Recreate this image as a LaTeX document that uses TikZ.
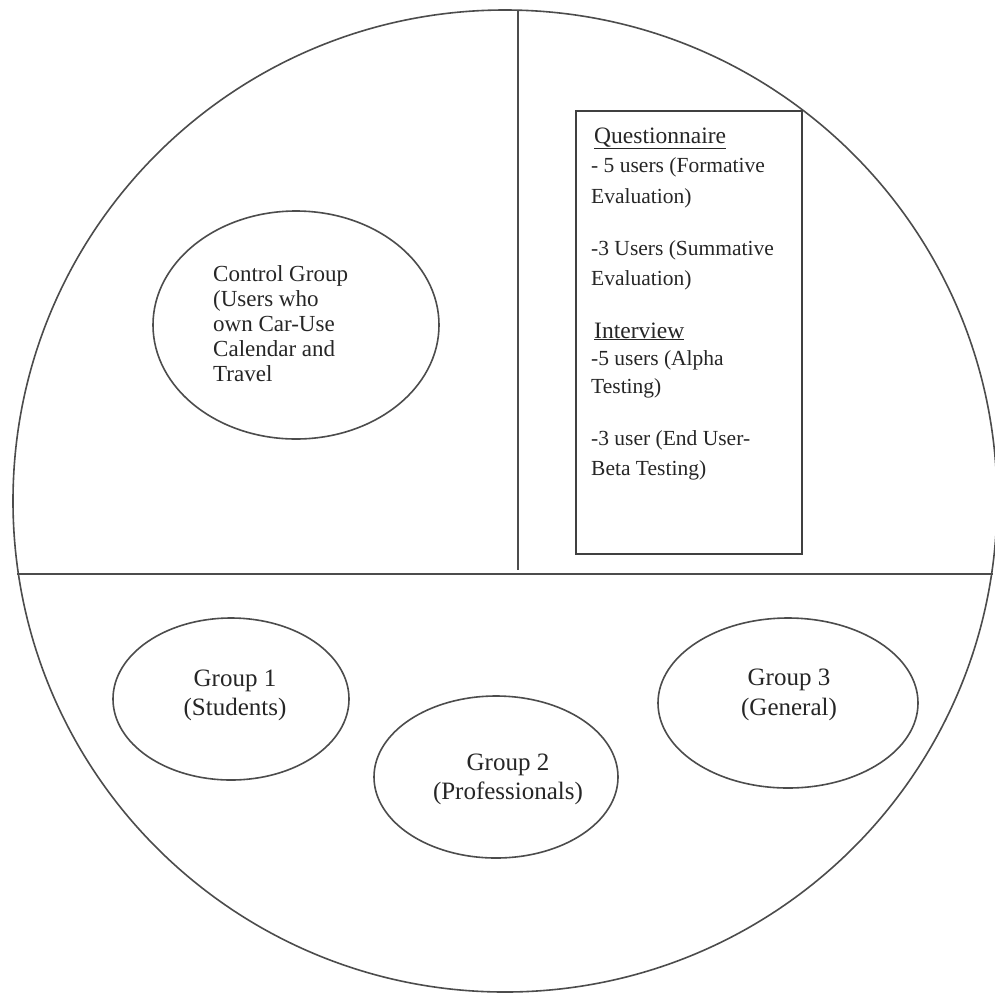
\documentclass[tikz,border=0pt]{standalone}
\usepackage{fontspec}
\setmainfont{Liberation Serif}
\usetikzlibrary{shapes.geometric}
\begin{document}
\begin{tikzpicture}[x=1pt,y=-1pt,
  ln/.style={draw=black!70, line width=1.7pt},
  grp/.style={ellipse, draw=black!70, line width=1.6pt, inner sep=0pt},
  lbl/.style={anchor=base, inner sep=0pt, text=black!85, font=\fontsize{25}{29}\selectfont},
  ctl/.style={anchor=base west, inner sep=0pt, text=black!85, font=\fontsize{23}{25}\selectfont},
  hd/.style={anchor=base west, inner sep=0pt, text=black!85, font=\fontsize{23.5}{27}\selectfont},
  bd/.style={anchor=base west, inner sep=0pt, text=black!85, font=\fontsize{21.5}{24}\selectfont}]
\useasboundingbox (0,0) rectangle (995,994);
\fill[white] (0,0) rectangle (995,994);
% outer circle
\node[grp, minimum width=984, minimum height=982] (outer) at (505,501) {};
% dividing lines
\coordinate (hl) at (17,574);
\coordinate (hr) at (993,574);
\coordinate (vt) at (518,10.5);
\coordinate (vb) at (518,570);
\draw[ln] (hl) -- (hr);
\draw[ln] (vt) -- (vb);
% control group
\node[grp, minimum width=286, minimum height=228] (ctrl) at (296,325) {};
\node[ctl] (c1) at (213,281) {Control Group};
\node[ctl] (c2) at (213,306) {(Users who};
\node[ctl] (c3) at (213,331) {own Car-Use};
\node[ctl] (c4) at (213,356) {Calendar and};
\node[ctl] (c5) at (213,381) {Travel};
% box
\node[draw=black!75, line width=1.6pt, minimum width=226, minimum height=443, inner sep=0pt, anchor=north west] (box) at (575,110) {};
\node[hd] (q0) at (594,143) {\underline{Questionnaire}};
\node[bd] (q1) at (591,172) {- 5 users (Formative};
\node[bd] (q2) at (591,203) {Evaluation)};
\node[bd] (q3) at (591,255) {-3 Users (Summative};
\node[bd] (q4) at (591,285) {Evaluation)};
\node[hd] (i0) at (594,338) {\underline{Interview}};
\node[bd] (i1) at (591,365) {-5 users (Alpha};
\node[bd] (i2) at (591,393) {Testing)};
\node[bd] (i3) at (591,445) {-3 user (End User-};
\node[bd] (i4) at (591,475) {Beta Testing)};
% groups
\node[grp, minimum width=236, minimum height=162] (g1) at (231,699) {};
\node[lbl] (g1a) at (235,686) {Group 1};
\node[lbl] (g1b) at (235,715) {(Students)};
\node[grp, minimum width=244, minimum height=162] (g2) at (496,777) {};
\node[lbl] (g2a) at (508,770) {Group 2};
\node[lbl] (g2b) at (508,799) {(Professionals)};
\node[grp, minimum width=260, minimum height=170] (g3) at (788,703) {};
\node[lbl] (g3a) at (789,685) {Group 3};
\node[lbl] (g3b) at (789,715) {(General)};
\end{tikzpicture}
\end{document}
